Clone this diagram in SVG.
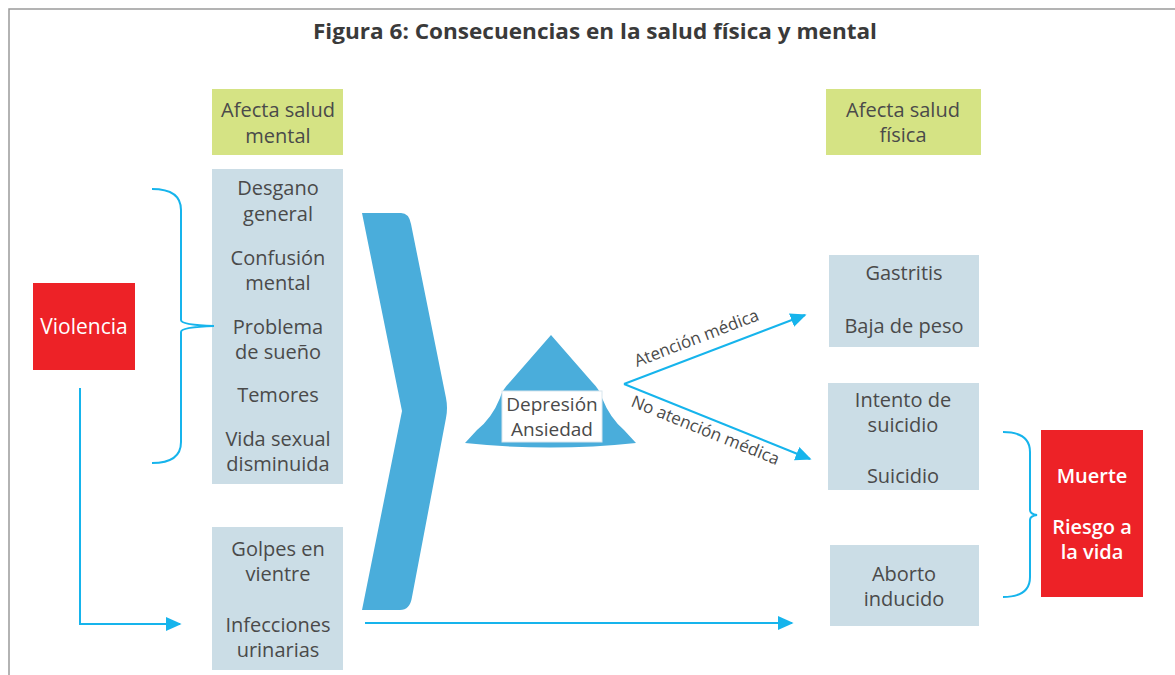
<svg xmlns="http://www.w3.org/2000/svg" width="1175" height="675" viewBox="0 0 1175 675">
<defs>
<style>
.t{font-family:"Open Sans","Noto Sans",sans-serif;font-size:20px;fill:#4a4a4a;text-anchor:middle}
.w{font-family:"Open Sans","Noto Sans",sans-serif;font-size:20px;fill:#ffffff;text-anchor:middle;font-weight:600}
.blue{fill:#cbdde6}
.green{fill:#d5e384}
.red{fill:#ed2227}
.ln{fill:none;stroke:#16b4ec;stroke-width:2}
.lbl{font-family:"Open Sans","Noto Sans",sans-serif;font-size:17px;fill:#4a4a4a}
</style>
<marker id="ah2" viewBox="0 0 10 10" refX="9" refY="5" markerWidth="16" markerHeight="16" markerUnits="userSpaceOnUse" orient="auto">
<path d="M0,0.5 L10,5 L0,9.5 Z" fill="#16b4ec"/>
</marker>
</defs>
<rect width="1175" height="675" fill="#ffffff"/>
<path d="M1175,9 H9 V675" fill="none" stroke="#9a9a9a" stroke-width="1.5"/>
<text x="595" y="39" font-family="Open Sans, Noto Sans, sans-serif" font-size="21" font-weight="700" fill="#3a3a3a" text-anchor="middle" textLength="564" lengthAdjust="spacingAndGlyphs">Figura 6: Consecuencias en la salud física y mental</text>

<g id="afecta-mental"><rect class="green" x="212" y="89" width="131" height="66"/><text class="t" x="278" y="117">Afecta salud</text><text class="t" x="278" y="143">mental</text></g>
<g id="mental-list"><rect class="blue" x="212" y="169" width="131" height="315"/>
<text class="t" x="278" y="195">Desgano</text><text class="t" x="278" y="221">general</text>
<text class="t" x="278" y="265">Confusión</text><text class="t" x="278" y="290">mental</text>
<text class="t" x="278" y="334">Problema</text><text class="t" x="278" y="359">de sueño</text>
<text class="t" x="278" y="402">Temores</text>
<text class="t" x="278" y="446">Vida sexual</text><text class="t" x="278" y="471">disminuida</text></g>
<g id="fisica-list"><rect class="blue" x="212" y="527" width="131" height="143"/>
<text class="t" x="278" y="556">Golpes en</text><text class="t" x="278" y="581">vientre</text>
<text class="t" x="278" y="632">Infecciones</text><text class="t" x="278" y="657">urinarias</text></g>
<g id="violencia"><rect class="red" x="33" y="283" width="102" height="87"/><text class="w" x="84" y="334" style="font-size:21px;font-weight:500">Violencia</text></g>

<g id="chevron"><path d="M362,213 L401,213 Q409,213 411,224 L446,398 Q448,408 446,418 L412,597 Q410,610 400,610 L362,610 L402,411 Z" fill="#4aaddb"/></g>

<g id="depresion"><path d="M551,335 L510,382 Q502,390 500,398 Q492,418 477,430 L465,443 Q550,452 636,443 L624,430 Q610,418 602,398 Q600,390 592,382 Z" fill="#4aaddb"/>
<rect x="502" y="391" width="100" height="51" fill="#ffffff" stroke="#d8e6ee" stroke-width="1"/>
<text class="t" x="552" y="411" style="font-size:19px">Depresión</text><text class="t" x="552" y="436" style="font-size:19px">Ansiedad</text></g>

<g id="afecta-fisica"><rect class="green" x="826" y="89" width="155" height="66"/><text class="t" x="903" y="117">Afecta salud</text><text class="t" x="903" y="142">física</text></g>
<g id="gastritis"><rect class="blue" x="829" y="255" width="150" height="92"/><text class="t" x="904" y="280">Gastritis</text><text class="t" x="904" y="333">Baja de peso</text></g>
<g id="suicidio"><rect class="blue" x="828" y="383" width="151" height="107"/><text class="t" x="903" y="407">Intento de</text><text class="t" x="903" y="432">suicidio</text><text class="t" x="903" y="483">Suicidio</text></g>
<g id="aborto"><rect class="blue" x="830" y="545" width="149" height="81"/><text class="t" x="904" y="581">Aborto</text><text class="t" x="904" y="606">inducido</text></g>
<g id="muerte"><rect class="red" x="1041" y="430" width="102" height="167"/><text class="w" x="1092" y="483">Muerte</text><text class="w" x="1092" y="534">Riesgo a</text><text class="w" x="1092" y="559">la vida</text></g>

<g id="connectors">
<path class="ln" d="M152,189 Q181,189 181,210 V320 Q181,325 214,326 Q181,327 181,332 V442 Q181,463 152,463"/>
<path class="ln" d="M1003,432 Q1030,432 1030,452 V510 Q1030,514 1037,515 Q1030,516 1030,520 V577 Q1030,597 1003,597"/>
<path class="ln" d="M80,388 V624 H180" marker-end="url(#ah2)"/>
<path class="ln" d="M365,623 H792" marker-end="url(#ah2)"/>
<path class="ln" d="M624,384 L805,315" marker-end="url(#ah2)"/>
<path class="ln" d="M624,384 L810,459" marker-end="url(#ah2)"/>
<text class="lbl" transform="translate(637,367) rotate(-21)">Atención médica</text>
<text class="lbl" transform="translate(630,406) rotate(22)">No atención médica</text>
</g>
</svg>
